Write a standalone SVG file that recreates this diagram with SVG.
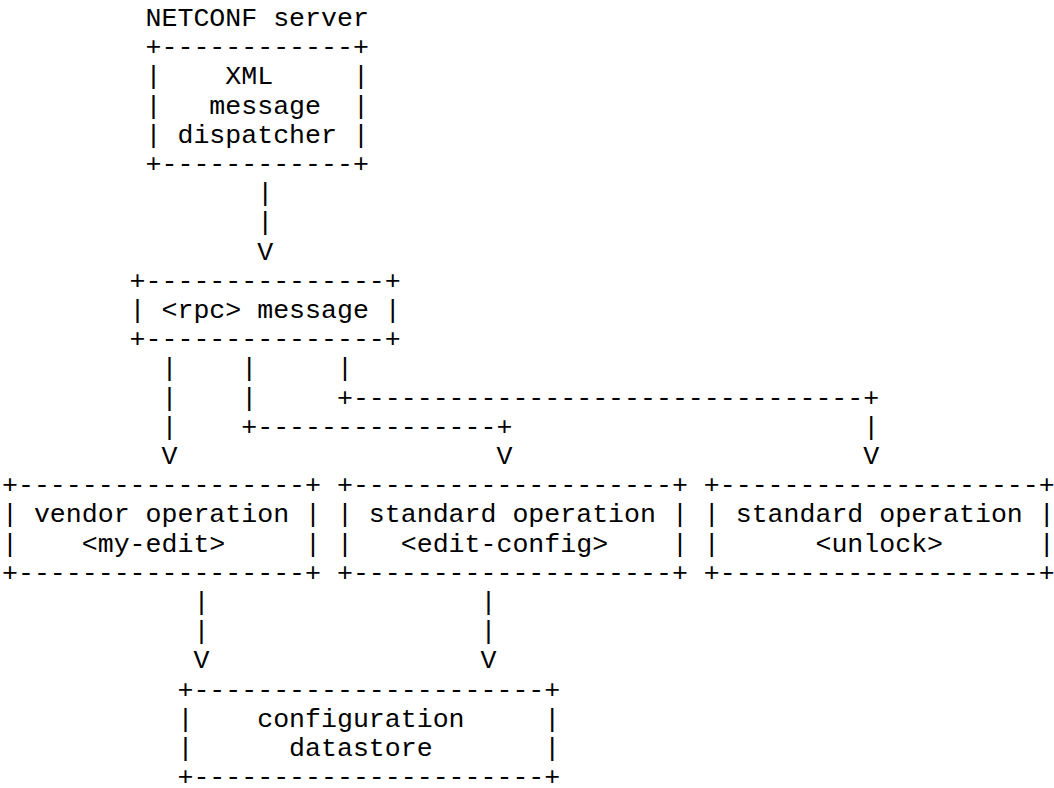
<svg xmlns="http://www.w3.org/2000/svg" width="1054" height="788" viewBox="0 0 1054 788">
<style>
text{font-family:"Liberation Mono","Courier New",monospace;font-size:26.58px;fill:#000;white-space:pre}
</style>
<rect width="1054" height="788" fill="#fff"/>
<g id="n-server" xml:space="preserve">
<text x="145.55" y="26">NETCONF server</text>
<text x="145.55" y="55.2">+------------+</text>
<text x="145.55" y="84.4">|    XML     |</text>
<text x="145.55" y="113.6">|   message  |</text>
<text x="145.55" y="142.8">| dispatcher |</text>
<text x="145.55" y="172">+------------+</text>
</g>
<g id="n-rpc" xml:space="preserve">
<text x="129.6" y="288.8">+---------------+</text>
<text x="129.6" y="318">| &lt;rpc&gt; message |</text>
<text x="129.6" y="347.2">+---------------+</text>
</g>
<g id="n-vendor" xml:space="preserve">
<text x="2" y="493.2">+------------------+</text>
<text x="2" y="522.4">| vendor operation |</text>
<text x="2" y="551.6">|    &lt;my-edit&gt;     |</text>
<text x="2" y="580.8">+------------------+</text>
</g>
<g id="n-editconfig" xml:space="preserve">
<text x="336.95" y="493.2">+--------------------+</text>
<text x="336.95" y="522.4">| standard operation |</text>
<text x="336.95" y="551.6">|   &lt;edit-config&gt;    |</text>
<text x="336.95" y="580.8">+--------------------+</text>
</g>
<g id="n-unlock" xml:space="preserve">
<text x="703.8" y="493.2">+--------------------+</text>
<text x="703.8" y="522.4">| standard operation |</text>
<text x="703.8" y="551.6">|      &lt;unlock&gt;      |</text>
<text x="703.8" y="580.8">+--------------------+</text>
</g>
<g id="n-datastore" xml:space="preserve">
<text x="177.45" y="697.6">+----------------------+</text>
<text x="177.45" y="726.8">|    configuration     |</text>
<text x="177.45" y="756">|      datastore       |</text>
<text x="177.45" y="785.2">+----------------------+</text>
</g>
<g id="connectors" xml:space="preserve">
<text x="257.2" y="201.2">|</text>
<text x="257.2" y="230.4">|</text>
<text x="257.2" y="259.6">V</text>
<text x="161.5" y="376.4">|</text>
<text x="241.25" y="376.4">|</text>
<text x="336.95" y="376.4">|</text>
<text x="161.5" y="405.6">|</text>
<text x="241.25" y="405.6">|</text>
<text x="336.95" y="405.6">+--------------------------------+</text>
<text x="161.5" y="434.8">|</text>
<text x="241.25" y="434.8">+---------------+</text>
<text x="863.3" y="434.8">|</text>
<text x="161.5" y="464">V</text>
<text x="496.45" y="464">V</text>
<text x="863.3" y="464">V</text>
<text x="193.4" y="610">|</text>
<text x="480.5" y="610">|</text>
<text x="193.4" y="639.2">|</text>
<text x="480.5" y="639.2">|</text>
<text x="193.4" y="668.4">V</text>
<text x="480.5" y="668.4">V</text>
</g>
</svg>
